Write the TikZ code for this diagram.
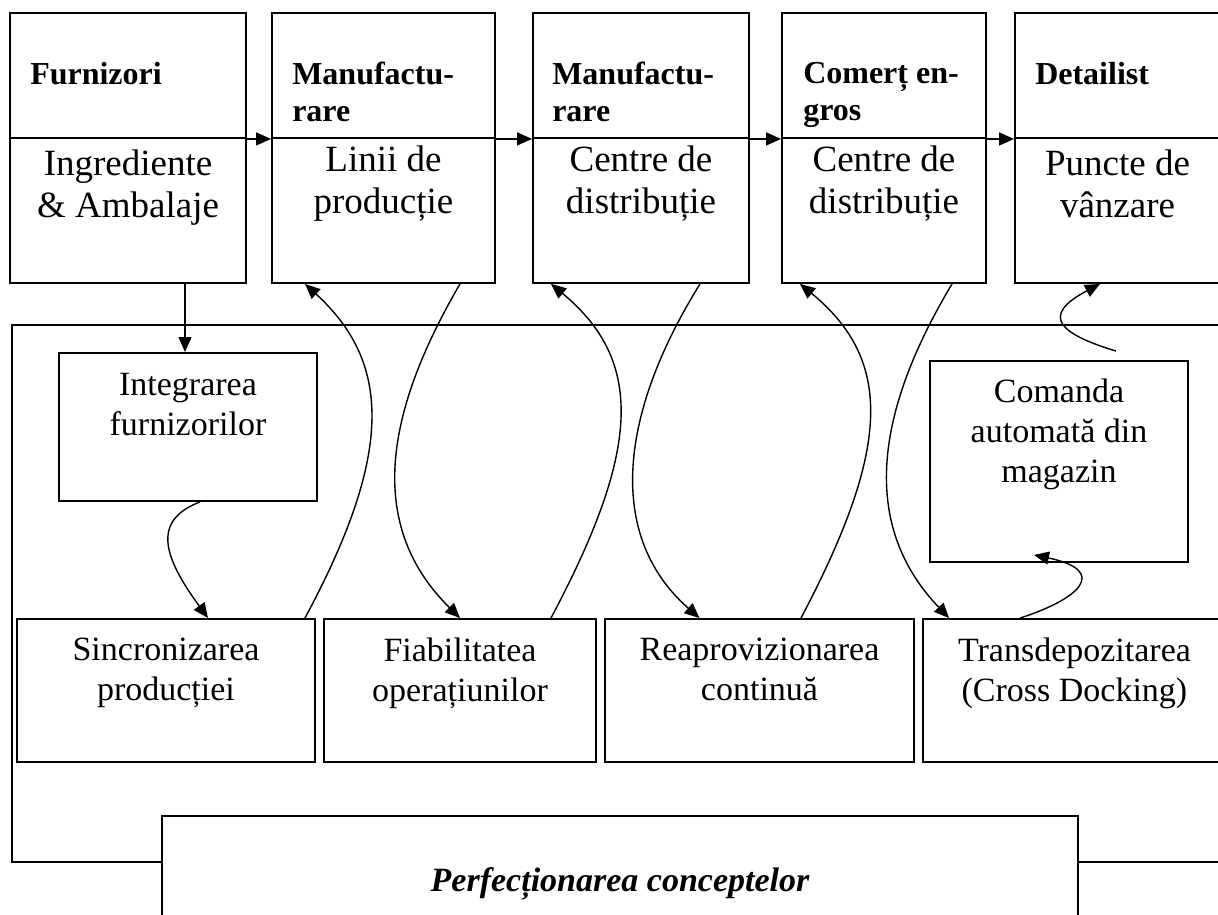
\documentclass[tikz,border=0pt]{standalone}
\usepackage{fontspec}
\setmainfont{Liberation Serif}
\usepackage{tikz}
\usetikzlibrary{positioning,calc,arrows.meta}
\tikzstyle{tsBox} = [ 
    rectangle,
    draw=black,
    line width=1.9pt,
    inner sep=0pt
]
\tikzstyle{tsHeadText} = [ 
    text=black, 
    font=\bfseries\fontsize{32}{37}\selectfont,
    align=left,
    inner sep=0pt
]
\tikzstyle{tsBodyText} = [ 
    text=black, 
    font=\fontsize{37}{42}\selectfont,
    align=center,
    inner sep=0pt
]
\tikzstyle{tsStepText} = [ 
    text=black, 
    font=\fontsize{34}{40}\selectfont,
    align=center,
    inner sep=0pt
]
\tikzstyle{tsArrow} = [ 
    -{Triangle[length=15pt,width=13pt]},
    line width=1.4pt
]

\begin{document}
\begin{tikzpicture}[x=1pt, y=-1pt]
        \useasboundingbox (0,0) rectangle (1218,915);
        \clip (0,0) rectangle (1218,915);
        
        % chain of partners
        \node[tsBox, minimum width=236pt, minimum height=125pt] (furnH) at (128,75.5) {};
        \node[tsBox, minimum width=236pt, minimum height=145pt] (furnB) at (128,210.5) {};
        \node[tsBox, minimum width=223pt, minimum height=125pt] (manH) at (383.5,75.5) {};
        \node[tsBox, minimum width=223pt, minimum height=145pt] (manB) at (383.5,210.5) {};
        \node[tsBox, minimum width=216pt, minimum height=125pt] (distH) at (641,75.5) {};
        \node[tsBox, minimum width=216pt, minimum height=145pt] (distB) at (641,210.5) {};
        \node[tsBox, minimum width=204pt, minimum height=125pt] (angroH) at (884,75.5) {};
        \node[tsBox, minimum width=204pt, minimum height=145pt] (angroB) at (884,210.5) {};
        \node[tsBox, minimum width=205pt, minimum height=125pt] (detH) at (1117.5,75.5) {};
        \node[tsBox, minimum width=205pt, minimum height=145pt] (detB) at (1117.5,210.5) {};
        
        \node[tsHeadText, below right=50pt and 21pt of furnH.north west] (furnT) {Furnizori};
        \node[tsHeadText, below right=50pt and 21pt of manH.north west] (manT) {Manufactu-\\rare};
        \node[tsHeadText, below right=50pt and 20pt of distH.north west] (distT) {Manufactu-\\rare};
        \node[tsHeadText, below right=50pt and 22pt of angroH.north west] (angroT) {Comerț en-\\gros};
        \node[tsHeadText, below right=50pt and 21pt of detH.north west] (detT) {Detailist};
        
        \node[tsBodyText, below=13pt of furnB.north] (furnTxt) {Ingrediente\\\& Ambalaje};
        \node[tsBodyText, below=9pt of manB.north] (manTxt) {Linii de\\producție};
        \node[tsBodyText, below=9pt of distB.north] (distTxt) {Centre de\\distribuție};
        \node[tsBodyText, below=9pt of angroB.north] (angroTxt) {Centre de\\distribuție};
        \node[tsBodyText, below=13pt of detB.north] (detTxt) {Puncte de\\vânzare};
        
        \draw[tsArrow] (furnH.south east) -- (manH.south west);
        \draw[tsArrow] (manH.south east) -- (distH.south west);
        \draw[tsArrow] (distH.south east) -- (angroH.south west);
        \draw[tsArrow] (angroH.south east) -- (detH.south west);
        
        % concepts
        \node[tsBox, minimum width=1228pt, minimum height=537pt] (frame) at (626,593.5) {};
        \node[tsBox, minimum width=258pt, minimum height=148pt] (integ) at (188,427) {};
        \node[tsBox, minimum width=258pt, minimum height=201pt] (com) at (1059,461.5) {};
        \node[tsBox, minimum width=298pt, minimum height=143pt] (sinc) at (166,690.5) {};
        \node[tsBox, minimum width=272pt, minimum height=143pt] (fiab) at (460,690.5) {};
        \node[tsBox, minimum width=309pt, minimum height=143pt] (reap) at (759.5,690.5) {};
        \node[tsBox, minimum width=303pt, minimum height=143pt] (trans) at (1074.5,690.5) {};
        \node[tsBox, fill=white, minimum width=916pt, minimum height=114pt] (perf) at (620,873) {};
        
        \node[tsStepText, below=21pt of integ.north] (integT) {Integrarea\\furnizorilor};
        \node[tsStepText, below=19pt of com.north] (comT) {Comanda\\automată din\\magazin};
        \node[tsStepText, below=20pt of sinc.north] (sincT) {Sincronizarea\\producției};
        \node[tsStepText, below=20pt of fiab.north] (fiabT) {Fiabilitatea\\operațiunilor};
        \node[tsStepText, below=20pt of reap.north] (reapT) {Reaprovizionarea\\continuă};
        \node[tsStepText, below=20pt of trans.north] (transT) {Transdepozitarea\\(Cross Docking)};
        \node[tsStepText, font=\bfseries\itshape\fontsize{34}{40}\selectfont,
              below=52pt of perf.north] (perfT) {Perfecționarea conceptelor};
        
        \draw[tsArrow] ([xshift=57pt]furnB.south) -- ([xshift=57pt]furnB.south |- integ.north);
        \draw[tsArrow] ([xshift=12pt]integ.south) .. controls +(-50,19) and +(-43,-59) .. ([xshift=42pt]sinc.north);
        \draw[tsArrow] ([xshift=-11pt]sinc.north east) .. controls +(91,-169) and +(84,77) .. ([xshift=34pt]manB.south west);
        \draw[tsArrow] ([xshift=76.5pt]manB.south) .. controls +(-80,137) and +(-90,-89) .. (fiab.north);
        \draw[tsArrow] ([xshift=-46pt]fiab.north east) .. controls +(90,-169) and +(93,77) .. ([xshift=19pt]distB.south west);
        \draw[tsArrow] ([xshift=59pt]distB.south) .. controls +(-85,137) and +(-90,-79) .. ([xshift=-60pt]reap.north);
        \draw[tsArrow] ([xshift=41.5pt]reap.north) .. controls +(89,-169) and +(94,77) .. ([xshift=19pt]angroB.south west);
        \draw[tsArrow] ([xshift=68pt]angroB.south) .. controls +(-82,137) and +(-85,-89) .. ([xshift=27pt]trans.north west);
        \draw[tsArrow] ([xshift=98pt]trans.north west) .. controls +(59,-19) and +(76,16) .. ([xshift=-25pt,yshift=8pt]com.south);
        \draw[tsArrow] ([xshift=57pt,yshift=9pt]com.north) .. controls +(-56,-17) and +(-61,32) .. ([xshift=86pt]detB.south west);
        
\end{tikzpicture}
\end{document}
